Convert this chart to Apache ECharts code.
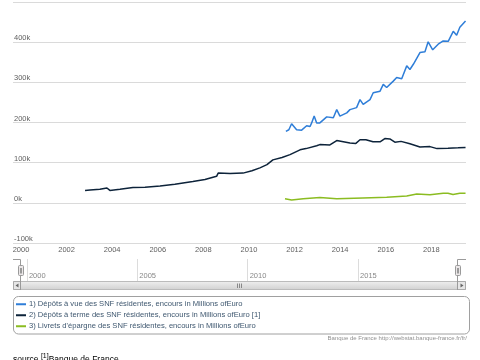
<!DOCTYPE html>
<html><head><meta charset="utf-8">
<script src="https://cdn.jsdelivr.net/npm/echarts@6/dist/echarts.min.js"></script>
<style>
html,body{margin:0;padding:0;background:#fff;overflow:hidden}
#c{position:absolute;left:0;top:0;width:480px;height:360px}
#src{position:absolute;left:13px;top:353px;font:8.5px 'Liberation Sans',Arial,sans-serif;color:#000;white-space:nowrap;line-height:12px}
#src sup{font-size:7px;line-height:0}
</style></head><body>
<div id="c"></div>
<div id="src">source <sup>[1]</sup>Banque de France</div>
<script>
const seriesNames = [
  "1) Dépôts à vue des SNF résidentes, encours in Millions ofEuro",
  "2) Dépôts à terme des SNF résidentes, encours in Millions ofEuro [1]",
  "3) Livrets d'épargne des SNF résidentes, encours in Millions ofEuro"
];
const seriesColors = ['#2f7ed8', '#0d233a', '#8bbc21'];

const vueYears = [2011.62, 2011.75, 2011.87, 2012.09, 2012.31, 2012.53, 2012.68, 2012.75, 2012.86, 2012.97,
  2013.11, 2013.41, 2013.70, 2013.85, 2013.99, 2014.29, 2014.43, 2014.72, 2014.87, 2015.01,
  2015.31, 2015.45, 2015.75, 2015.89, 2016.04, 2016.33, 2016.48, 2016.70, 2016.92, 2017.06,
  2017.21, 2017.50, 2017.72, 2017.86, 2018.06, 2018.30, 2018.52, 2018.74, 2018.96, 2019.11,
  2019.25, 2019.50];
const vueValues = [178, 182, 197, 182, 181, 192, 190, 199, 216, 199,
  199, 214, 212, 232, 216, 224, 232, 237, 257, 245,
  257, 274, 278, 295, 287, 303, 312, 309, 341, 332,
  345, 374, 376, 401, 381, 395, 403, 402, 427, 417,
  437, 453];

const termeYears = [2002.81, 2003.03, 2003.46, 2003.77, 2003.90, 2004.34, 2004.91, 2005.44, 2006.10, 2006.75,
  2007.54, 2008.07, 2008.58, 2008.65, 2009.17, 2009.74, 2010.13, 2010.48, 2010.79, 2011.05,
  2011.45, 2011.80, 2012.24, 2012.50, 2012.97, 2013.11, 2013.55, 2013.85, 2014.43, 2014.69,
  2014.87, 2015.13, 2015.44, 2015.75, 2015.96, 2016.18, 2016.40, 2016.67, 2017.06, 2017.50,
  2017.94, 2018.25, 2018.73, 2019.17, 2019.50];
const termeValues = [31, 32, 34, 37, 31, 34, 38, 39, 42, 46,
  53, 58, 66, 74, 73, 74, 80, 87, 95, 107,
  113, 120, 132, 135, 142, 145, 144, 155, 149, 148,
  157, 157, 152, 152, 160, 159, 151, 153, 147, 139,
  140, 135, 136, 137, 138];

const livretsYears = [2011.58, 2011.87, 2012.38, 2013.11, 2013.85, 2015.00, 2016.04, 2016.92, 2017.36, 2017.94,
  2018.52, 2018.73, 2018.95, 2019.25, 2019.50];
const livretsValues = [10, 7, 10, 13, 10, 12, 14, 17, 22, 20,
  24, 24, 21, 24, 24];

const xTickLabels = [2000, 2002, 2004, 2006, 2008, 2010, 2012, 2014, 2016, 2018];
const navTickLabels = [2000, 2005, 2010, 2015];

const toPairs = (xs, vs) => xs.map((x, i) => [x, vs[i] * 1000]);

const chart = echarts.init(document.getElementById('c'), null, {renderer: 'canvas'});
const font = "'Liberation Sans', Arial, sans-serif";
const mkLine = (i, xs, vs) => ({
  name: seriesNames[i], type: 'line', xAxisIndex: 0, yAxisIndex: 0,
  data: toPairs(xs, vs), showSymbol: false, symbol: 'none',
  lineStyle: {width: 1.5, color: seriesColors[i]}, itemStyle: {color: seriesColors[i]},
  animation: false
});

chart.setOption({
  animation: false,
  textStyle: {fontFamily: font},
  title: {
    text: 'Banque de France http://webstat.banque-france.fr/fr/',
    right: 13, top: 335, padding: 0,
    textStyle: {fontSize: 6, fontWeight: 'normal', color: '#909090', fontFamily: font}
  },
  grid: [
    {left: 13, right: 14, top: 2, height: 241},
    {left: 13, right: 14, top: 259, height: 22}
  ],
  xAxis: [
    {type: 'value', gridIndex: 0, min: 1999.65, max: 2019.52,
      axisLine: {show: false}, axisTick: {show: false}, splitLine: {show: false},
      axisLabel: {customValues: xTickLabels, fontSize: 7.5, color: '#606060', margin: 3,
        formatter: v => String(Math.round(v))}},
    {type: 'value', gridIndex: 1, min: 1999.37, max: 2019.89,
      axisLine: {show: false}, splitLine: {show: false},
      axisTick: {customValues: navTickLabels, inside: true, length: 22, lineStyle: {color: '#dcdcdc', width: 1}},
      axisLabel: {customValues: navTickLabels, inside: true, align: 'left', verticalAlign: 'bottom',
        margin: 1, padding: [0, 0, 0, 2], fontSize: 7.5, color: '#888', formatter: v => String(Math.round(v))}}
  ],
  yAxis: [
    {type: 'value', gridIndex: 0, min: -100000, max: 500000, interval: 100000,
      axisLine: {show: false}, axisTick: {show: false},
      splitLine: {lineStyle: {color: '#dadada', width: 1}},
      axisLabel: {inside: true, margin: 1, verticalAlign: 'bottom', fontSize: 7.5, color: '#606060',
        showMaxLabel: false, formatter: v => (v / 1000) + 'k'}},
    {type: 'value', gridIndex: 1, show: false, min: 0, max: 1}
  ],
  legend: {
    orient: 'vertical', left: 16, top: 299, padding: 0, itemGap: 0.5,
    itemWidth: 10, itemHeight: 2, icon: 'rect',
    textStyle: {fontSize: 7.6, lineHeight: 10.5, color: '#3e576f', fontFamily: font, padding: [0, 0, 0, -2]},
    data: seriesNames.map((n, i) => ({name: n, itemStyle: {color: seriesColors[i]}}))
  },
  series: [
    mkLine(0, vueYears, vueValues),
    mkLine(1, termeYears, termeValues),
    mkLine(2, livretsYears, livretsValues)
  ],
  graphic: [
    {type: 'rect', shape: {x: 13.5, y: 296.5, width: 456, height: 37.5, r: 5},
      style: {fill: 'none', stroke: '#a0a0a0', lineWidth: 1}, silent: true},
    {type: 'rect', shape: {x: 13.5, y: 281.5, width: 452, height: 8},
      style: {fill: new echarts.graphic.LinearGradient(0, 0, 0, 1, [{offset: 0, color: '#f0f0f0'}, {offset: 1, color: '#d0d0d0'}]), stroke: '#bbbbbb', lineWidth: 1}, silent: true},
    {type: 'rect', shape: {x: 13.5, y: 281.5, width: 7, height: 8},
      style: {fill: '#e6e6e6', stroke: '#aaaaaa', lineWidth: 1}, silent: true},
    {type: 'rect', shape: {x: 457.5, y: 281.5, width: 8, height: 8},
      style: {fill: '#e6e6e6', stroke: '#aaaaaa', lineWidth: 1}, silent: true},
    {type: 'polygon', shape: {points: [[18.5, 283.5], [18.5, 287.5], [15.5, 285.5]]}, style: {fill: '#666'}, silent: true},
    {type: 'polygon', shape: {points: [[460.5, 283.5], [460.5, 287.5], [463.5, 285.5]]}, style: {fill: '#666'}, silent: true},
    {type: 'line', shape: {x1: 237.5, y1: 283.5, x2: 237.5, y2: 288}, style: {stroke: '#888'}, silent: true},
    {type: 'line', shape: {x1: 239.5, y1: 283.5, x2: 239.5, y2: 288}, style: {stroke: '#888'}, silent: true},
    {type: 'line', shape: {x1: 241.5, y1: 283.5, x2: 241.5, y2: 288}, style: {stroke: '#888'}, silent: true},
    {type: 'polyline', shape: {points: [[13, 259.5], [20.5, 259.5], [20.5, 290]]}, style: {stroke: '#9a9a9a', lineWidth: 1, fill: 'none'}, silent: true},
    {type: 'polyline', shape: {points: [[466, 259.5], [457.5, 259.5], [457.5, 290]]}, style: {stroke: '#9a9a9a', lineWidth: 1, fill: 'none'}, silent: true},
    {type: 'rect', shape: {x: 18.5, y: 265.5, width: 5, height: 10, r: 1}, style: {fill: '#ebe7e8', stroke: '#9a9a9a', lineWidth: 1}, silent: true},
    {type: 'line', shape: {x1: 20.5, y1: 268, x2: 20.5, y2: 273.5}, style: {stroke: '#9a9a9a'}, silent: true},
    {type: 'line', shape: {x1: 21.5, y1: 268, x2: 21.5, y2: 273.5}, style: {stroke: '#9a9a9a'}, silent: true},
    {type: 'rect', shape: {x: 455.5, y: 265.5, width: 5, height: 10, r: 1}, style: {fill: '#ebe7e8', stroke: '#9a9a9a', lineWidth: 1}, silent: true},
    {type: 'line', shape: {x1: 457.5, y1: 268, x2: 457.5, y2: 273.5}, style: {stroke: '#9a9a9a'}, silent: true},
    {type: 'line', shape: {x1: 458.5, y1: 268, x2: 458.5, y2: 273.5}, style: {stroke: '#9a9a9a'}, silent: true}
  ]
});
</script>
</body></html>
